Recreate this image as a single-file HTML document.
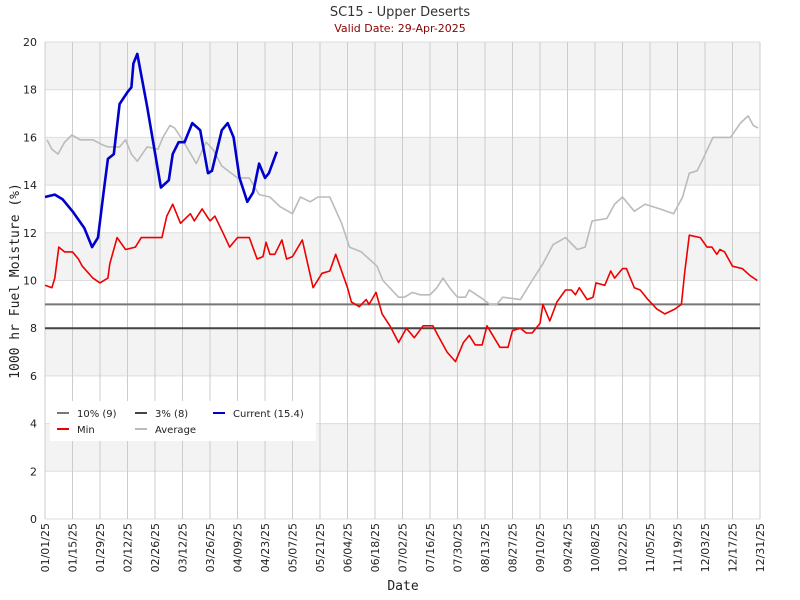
<!DOCTYPE html>
<html><head><meta charset="utf-8"><style>body{margin:0;background:#fff}svg{display:block}</style></head>
<body>
<svg id="c" width="800" height="600" xmlns="http://www.w3.org/2000/svg" font-family="DejaVu Sans, Liberation Sans, sans-serif">
<text x="400" y="16" text-anchor="middle" font-size="13" fill="#333">SC15 - Upper Deserts</text>
<text x="400" y="32" text-anchor="middle" font-size="11" fill="#8b0000">Valid Date: 29-Apr-2025</text>
<text transform="translate(19,281) rotate(-90)" text-anchor="middle" font-size="13" font-family="DejaVu Sans Mono, Liberation Mono, monospace" fill="#222">1000 hr Fuel Moisture (%)</text>
<text x="403" y="590" text-anchor="middle" font-size="13" font-family="DejaVu Sans Mono, Liberation Mono, monospace" fill="#222">Date</text>
<g id="bands"></g><g id="grid"></g><g id="ticks"></g><g id="series"></g>
<g>
<rect x="50" y="401" width="266" height="40" fill="#fff"/>
<g><line x1="57" y1="413" x2="69" y2="413" stroke="#777" stroke-width="2"/><text x="77" y="417" font-size="10" fill="#222">10% (9)</text></g>
<g><line x1="135" y1="413" x2="147" y2="413" stroke="#444" stroke-width="2"/><text x="155" y="417" font-size="10" fill="#222">3% (8)</text></g>
<g><line x1="213" y1="413" x2="225" y2="413" stroke="#0000cc" stroke-width="2"/><text x="233" y="417" font-size="10" fill="#222">Current (15.4)</text></g>
<g><line x1="57" y1="429" x2="69" y2="429" stroke="#e00" stroke-width="2"/><text x="77" y="433" font-size="10" fill="#222">Min</text></g>
<g><line x1="135" y1="429" x2="147" y2="429" stroke="#bbb" stroke-width="2"/><text x="155" y="433" font-size="10" fill="#222">Average</text></g>
</g>
</svg>
<script>
const xTickLabels=["01/01/25","01/15/25","01/29/25","02/12/25","02/26/25","03/12/25","03/26/25","04/09/25","04/23/25","05/07/25","05/21/25","06/04/25","06/18/25","07/02/25","07/16/25","07/30/25","08/13/25","08/27/25","09/10/25","09/24/25","10/08/25","10/22/25","11/05/25","11/19/25","12/03/25","12/17/25","12/31/25"];
const yTicks=[0,2,4,6,8,10,12,14,16,18,20];
const thresholds=[9,8];
const curDays=[0,5,9,14,20,24,27,30,32,35,38,42,44,45,47,52,59,63,65,68,71,75,79,83,85,90,93,96,99,103,106,109,112,114,118];
const curVals=[13.5,13.6,13.4,12.9,12.2,11.4,11.8,13.8,15.1,15.3,17.4,17.9,18.1,19.1,19.5,17.3,13.9,14.2,15.3,15.8,15.8,16.6,16.3,14.5,14.6,16.3,16.6,16.0,14.3,13.3,13.7,14.9,14.3,14.5,15.4];
const avgDays=[1,3.5,6.6,10,13.7,17.8,24.4,29,32,38,41,44,47,52,57.5,60,63.6,66,70,77,82,85.5,90,98,104,109,114.5,119.6,126,130,135,139,145,151,155,161,169,172,180,183,187,191,196,199.5,202.6,206,210,214,216,221.5,226.5,230,233,242,248,253.5,258.6,265,271,275,278.5,286,290,294,300,305.5,313,320,324.6,328,332,335,340,349,354,358,360.6,363];
const avgVals=[15.9,15.5,15.3,15.8,16.1,15.9,15.9,15.7,15.6,15.6,15.9,15.3,15.0,15.6,15.5,16.0,16.5,16.4,15.9,14.9,15.8,15.5,14.8,14.3,14.3,13.6,13.5,13.1,12.8,13.5,13.3,13.5,13.5,12.4,11.4,11.2,10.6,10.0,9.3,9.3,9.5,9.4,9.4,9.7,10.1,9.7,9.3,9.3,9.6,9.3,9.0,9.0,9.3,9.2,10.0,10.7,11.5,11.8,11.3,11.4,12.5,12.6,13.2,13.5,12.9,13.2,13.0,12.8,13.5,14.5,14.6,15.1,16.0,16.0,16.6,16.9,16.5,16.4];
const minDays=[0,3.5,5,7,10,14,17,19,24.4,28,32,33,36.7,41,46,49,59.5,62,65,69,74,76,80,84,86.5,90.6,94,98,104,108,111,112.5,114.5,117,120.6,123,126,131,136.5,141,145,148,154,156,160,163.5,165,168.5,171.6,175.6,180,184,188,192.5,197.5,200,204.7,209,213,216,219,222.5,225,231.6,235.7,238,242,245,248,252,253.5,257,260.6,265,268,270,272,276,279,280.5,285,288,290,294,296,300,303,307,311.5,315.6,320.6,324,325.6,328,333.6,337,339.5,342,343.6,346,350,355,359,362.6];
const minVals=[9.8,9.7,10.1,11.4,11.2,11.2,10.9,10.6,10.1,9.9,10.1,10.7,11.8,11.3,11.4,11.8,11.8,12.7,13.2,12.4,12.8,12.5,13.0,12.5,12.7,12.0,11.4,11.8,11.8,10.9,11.0,11.6,11.1,11.1,11.7,10.9,11.0,11.7,9.7,10.3,10.4,11.1,9.7,9.1,8.9,9.2,9.0,9.5,8.6,8.1,7.4,8.0,7.6,8.1,8.1,7.7,7.0,6.6,7.4,7.7,7.3,7.3,8.1,7.2,7.2,7.9,8.0,7.8,7.8,8.2,9.0,8.3,9.1,9.6,9.6,9.4,9.7,9.2,9.3,9.9,9.8,10.4,10.1,10.5,10.5,9.7,9.6,9.2,8.8,8.6,8.8,9.0,10.3,11.9,11.8,11.4,11.4,11.1,11.3,11.2,10.6,10.5,10.2,10.0];
const X0=45,X1=760,Y0=519,Y1=42;
const xs=d=>X0+d*(X1-X0)/364, ys=v=>Y0-v*(Y0-Y1)/20;
const NS="http://www.w3.org/2000/svg";
function mk(p,t,a){const e=document.createElementNS(NS,t);for(const k in a)e.setAttribute(k,a[k]);p.appendChild(e);return e;}
const bands=document.getElementById('bands'),grid=document.getElementById('grid'),ticks=document.getElementById('ticks'),series=document.getElementById('series');
const bg=mk(bands,'rect',{x:X0,y:Y1,width:X1-X0,height:Y0-Y1,fill:'#fff'});


for(let i=0;i<yTicks.length-1;i++){if(i%2===1){const r=mk(bands,'rect',{x:X0,y:ys(yTicks[i+1]),width:X1-X0,height:ys(yTicks[i])-ys(yTicks[i+1]),fill:'#f3f3f3'});

}}
yTicks.forEach(v=>{const l=mk(grid,'line',{x1:X0,x2:X1,y1:ys(v),y2:ys(v),stroke:'#ddd','stroke-width':1});


const t=mk(ticks,'text',{x:X0-8,y:ys(v)+4,'text-anchor':'end','font-size':11,fill:'#222'});t.textContent=v;

});
xTickLabels.forEach((s,i)=>{const x=xs(i*14);const l=mk(grid,'line',{x1:x,x2:x,y1:Y1,y2:Y0,stroke:'#ccc','stroke-width':1});


const t=mk(ticks,'text',{transform:`translate(${x+4},${Y0+4}) rotate(-90)`,'text-anchor':'end','font-size':11,fill:'#222'});t.textContent=s;

});
const thrCol=['#777','#444'];
thresholds.forEach((v,i)=>{const l=mk(series,'line',{x1:X0,x2:X1,y1:ys(v),y2:ys(v),stroke:thrCol[i],'stroke-width':2});

});
function line(d,v,c,w,n){const p=mk(series,'polyline',{points:d.map((x,i)=>xs(x).toFixed(1)+','+ys(v[i]).toFixed(1)).join(' '),fill:'none',stroke:c,'stroke-width':w,'stroke-linejoin':'round'});

}
line(avgDays,avgVals,'#bbb',1.6,'average-line');
line(minDays,minVals,'#e00',1.6,'min-line');
line(curDays,curVals,'#0000cc',2.6,'current-line');
</script>
</body></html>
